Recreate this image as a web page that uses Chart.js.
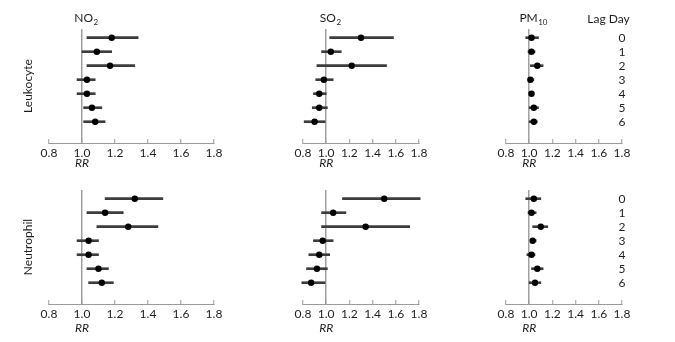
<!DOCTYPE html>
<html>
<head>
<meta charset="utf-8">
<script src="https://cdn.jsdelivr.net/npm/chart.js@4.4.1/dist/chart.umd.min.js"></script>
<style>
  html, body { margin: 0; padding: 0; background: #fff; }
  #wrap { position: relative; width: 675px; height: 342px; overflow: hidden; }
  #wrap canvas { position: absolute; }
</style>
</head>
<body>
<div id="wrap"></div>
<script>
const lagDays = ['0', '1', '2', '3', '4', '5', '6'];
const xTicks = [0.8, 1.0, 1.2, 1.4, 1.6, 1.8];

// Leukocyte
const leukNo2Rr = [1.18, 1.09, 1.17, 1.03, 1.03, 1.06, 1.08];
const leukNo2Lo = [1.03, 1.00, 1.03, 0.97, 0.97, 1.01, 1.01];
const leukNo2Hi = [1.34, 1.18, 1.32, 1.08, 1.08, 1.12, 1.14];

const leukSo2Rr = [1.30, 1.04, 1.22, 0.98, 0.94, 0.94, 0.90];
const leukSo2Lo = [1.03, 0.96, 0.92, 0.91, 0.89, 0.88, 0.81];
const leukSo2Hi = [1.58, 1.13, 1.52, 1.06, 1.00, 1.01, 0.99];

const leukPm10Rr = [1.02, 1.02, 1.07, 1.01, 1.02, 1.04, 1.04];
const leukPm10Lo = [0.97, 0.99, 1.01, 1.00, 1.00, 1.00, 1.00];
const leukPm10Hi = [1.08, 1.05, 1.12, 1.04, 1.04, 1.08, 1.07];

// Neutrophil
const neutNo2Rr = [1.32, 1.14, 1.28, 1.04, 1.04, 1.10, 1.12];
const neutNo2Lo = [1.14, 1.03, 1.09, 0.97, 0.97, 1.03, 1.04];
const neutNo2Hi = [1.49, 1.25, 1.46, 1.10, 1.10, 1.16, 1.19];

const neutSo2Rr = [1.50, 1.06, 1.34, 0.97, 0.94, 0.92, 0.87];
const neutSo2Lo = [1.14, 0.96, 0.96, 0.89, 0.85, 0.83, 0.79];
const neutSo2Hi = [1.81, 1.17, 1.72, 1.06, 1.03, 1.01, 0.99];

const neutPm10Rr = [1.04, 1.02, 1.10, 1.03, 1.02, 1.07, 1.05];
const neutPm10Lo = [0.97, 0.99, 1.03, 1.01, 0.98, 1.02, 1.00];
const neutPm10Hi = [1.10, 1.06, 1.16, 1.06, 1.05, 1.12, 1.10];

const rowNames = ['Leukocyte', 'Neutrophil'];
const pollutants = [['NO', '2'], ['SO', '2'], ['PM', '10']];

const panels = [
  { row: 0, col: 0, rr: leukNo2Rr, lo: leukNo2Lo, hi: leukNo2Hi },
  { row: 0, col: 1, rr: leukSo2Rr, lo: leukSo2Lo, hi: leukSo2Hi },
  { row: 0, col: 2, rr: leukPm10Rr, lo: leukPm10Lo, hi: leukPm10Hi },
  { row: 1, col: 0, rr: neutNo2Rr, lo: neutNo2Lo, hi: neutNo2Hi },
  { row: 1, col: 1, rr: neutSo2Rr, lo: neutSo2Lo, hi: neutSo2Hi },
  { row: 1, col: 2, rr: neutPm10Rr, lo: neutPm10Lo, hi: neutPm10Hi }
];

// page geometry of each cell and its plot area
const colLeft = [0, 235, 440];
const colWidth = [235, 205, 235];
const areaLeft = [49, 254, 457];
const areaWidth = 165;
const rowTop = [0, 171];
const rowHeight = 171;
const areaTop = [29, 190];
const areaHeight = 114;
const yAxisWidth = 49;
const rrGap = [20.5, 24];

const textColor = '#1e1e1e';
Chart.defaults.font.family = 'Lato, "Open Sans", sans-serif';
Chart.defaults.font.size = 12;
Chart.defaults.color = textColor;

const panelText = {
  id: 'panelText',
  afterDraw(chart, args, opts) {
    const { ctx, chartArea } = chart;
    const xs = chart.scales.x;
    const ys = chart.scales.y;
    const x1 = xs.getPixelForValue(1);
    ctx.save();
    ctx.fillStyle = textColor;

    if (opts.title) {
      const [main, sub] = opts.title;
      ctx.font = '12px Lato';
      const wMain = ctx.measureText(main).width;
      ctx.font = '8px Lato';
      const wSub = ctx.measureText(sub).width;
      const tx = x1 + 4 - (wMain + wSub) / 2;
      ctx.textAlign = 'left';
      ctx.textBaseline = 'alphabetic';
      ctx.font = '12px Lato';
      ctx.fillText(main, tx, 21.5);
      ctx.font = '8px Lato';
      ctx.fillText(sub, tx + wMain + 0.5, 25);
    }

    ctx.font = 'italic 12px Lato';
    ctx.textAlign = 'center';
    ctx.textBaseline = 'middle';
    ctx.fillText('RR', x1, chartArea.bottom + opts.rrGap);

    if (opts.lags) {
      const xr = xs.getPixelForValue(1.8);
      ctx.font = '12px Lato';
      lagDays.forEach((d, i) => ctx.fillText(d, xr, ys.getPixelForValue(i)));
      if (opts.header) ctx.fillText('Lag Day', xr - 13.5, 19.5);
    }
    ctx.restore();
  }
};

const wrap = document.getElementById('wrap');

panels.forEach(p => {
  const canvas = document.createElement('canvas');
  canvas.width = colWidth[p.col];
  canvas.height = rowHeight;
  canvas.style.left = colLeft[p.col] + 'px';
  canvas.style.top = rowTop[p.row] + 'px';
  wrap.appendChild(canvas);

  const firstCol = p.col === 0;
  const padLeft = areaLeft[p.col] - colLeft[p.col] - (firstCol ? yAxisWidth : 0);
  const padRight = colLeft[p.col] + colWidth[p.col] - (areaLeft[p.col] + areaWidth);
  const axisHeight = rowHeight - (areaTop[p.row] - rowTop[p.row]) - areaHeight;

  new Chart(canvas.getContext('2d'), {
    type: 'scatter',
    data: {
      datasets: [
        {
          type: 'scatter',
          data: p.rr.map((v, i) => ({ x: v, y: i })),
          backgroundColor: '#000',
          borderWidth: 0,
          pointRadius: 3.2,
          pointHoverRadius: 3.2
        },
        {
          type: 'bar',
          indexAxis: 'y',
          data: p.lo.map((v, i) => ({ x: [v, p.hi[i]], y: i })),
          backgroundColor: '#3c3c3c',
          borderWidth: 0,
          barThickness: 2,
          clip: false
        }
      ]
    },
    options: {
      responsive: false,
      animation: false,
      layout: { padding: { left: padLeft, right: padRight, top: areaTop[p.row] - rowTop[p.row], bottom: 0 } },
      plugins: {
        legend: { display: false },
        tooltip: { enabled: false },
        panelText: {
          title: p.row === 0 ? pollutants[p.col] : null,
          rrGap: rrGap[p.row],
          lags: p.col === 2,
          header: p.col === 2 && p.row === 0
        }
      },
      scales: {
        x: {
          type: 'linear',
          min: 0.8,
          max: 1.8,
          offset: false,
          afterBuildTicks: s => { s.ticks = xTicks.map(v => ({ value: v })); },
          afterFit: s => { s.height = axisHeight; },
          border: { color: '#9a9a9a', width: 1 },
          grid: {
            offset: false,
            drawOnChartArea: true,
            color: c => (c.tick && Math.abs(c.tick.value - 1) < 1e-9) ? '#a0a0a0' : 'rgba(0,0,0,0)',
            lineWidth: 1.5,
            tickColor: '#9a9a9a',
            tickWidth: 1,
            tickLength: -4
          },
          ticks: {
            padding: 7,
            maxRotation: 0,
            autoSkip: false,
            callback: v => Number(v).toFixed(1)
          }
        },
        y: {
          type: 'linear',
          reverse: true,
          offset: false,
          min: -0.62,
          max: 7.52,
          display: firstCol,
          afterFit: s => { s.width = yAxisWidth; },
          grid: { display: false, offset: false },
          border: { display: false },
          ticks: { display: false },
          title: {
            display: true,
            text: rowNames[p.row],
            color: textColor,
            font: { size: 12 },
            padding: { top: 21, bottom: 0 }
          }
        }
      }
    },
    plugins: [panelText]
  });
});
</script>
</body>
</html>
